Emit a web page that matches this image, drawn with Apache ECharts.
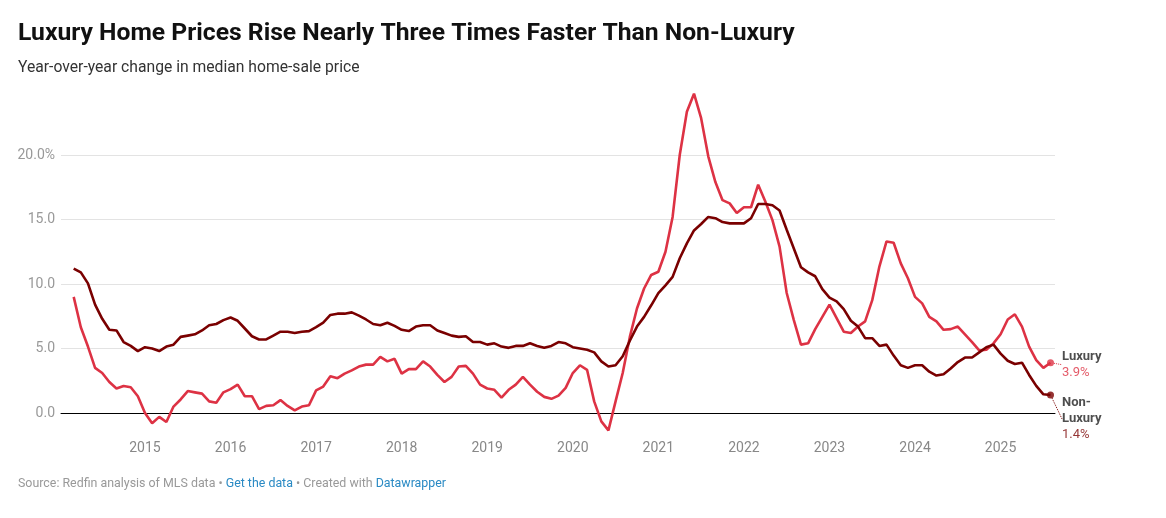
<!DOCTYPE html>
<html>
<head>
<meta charset="utf-8">
<script src="https://cdn.jsdelivr.net/npm/echarts@6.0.0/dist/echarts.min.js"></script>
<style>
html,body{margin:0;padding:0;background:#fff;}
#chart{width:1166px;height:518px;}
</style>
</head>
<body>
<div id="chart"></div>
<script>
// ---- Data (year-over-year change, %, monthly Mar 2014 – Aug 2025) ----
const startYear = 2014, startMonth = 3, monthCount = 138;
const months = [];
for (let i = 0; i < monthCount; i++) {
  const m = startMonth - 1 + i;
  const y = startYear + Math.floor(m / 12);
  const mm = (m % 12) + 1;
  months.push(y + '-' + (mm < 10 ? '0' + mm : mm));
}

const luxury = [
  9.0, 6.65, 5.15, 3.5, 3.1, 2.4, 1.9, 2.1, 2.0, 1.3,
  0.0, -0.8, -0.3, -0.7, 0.5, 1.05, 1.7, 1.6, 1.5, 0.9, 0.8, 1.6,
  1.85, 2.2, 1.3, 1.3, 0.3, 0.55, 0.6, 1.0, 0.55, 0.2, 0.5, 0.6,
  1.75, 2.05, 2.85, 2.7, 3.05, 3.3, 3.6, 3.75, 3.75, 4.35, 4.0, 4.2,
  3.05, 3.4, 3.4, 4.0, 3.6, 2.95, 2.4, 2.8, 3.6, 3.65, 3.05, 2.2,
  1.9, 1.8, 1.2, 1.8, 2.2, 2.8, 2.2, 1.65, 1.25, 1.1, 1.35, 1.95,
  3.1, 3.7, 3.35, 0.9, -0.65, -1.35, 0.9, 3.1, 5.9, 8.1, 9.65, 10.7,
  10.95, 12.5, 15.2, 20.0, 23.35, 24.75, 22.85, 19.9, 17.9, 16.5, 16.25, 15.5,
  15.95, 15.95, 17.7, 16.4, 14.95, 12.9, 9.3, 7.2, 5.3, 5.4, 6.5, 7.45,
  8.4, 7.35, 6.3, 6.2, 6.7, 7.1, 8.75, 11.35, 13.3, 13.2, 11.6, 10.45,
  9.0, 8.5, 7.45, 7.1, 6.45, 6.5, 6.7, 6.1, 5.5, 4.85, 4.9, 5.4,
  6.1, 7.25, 7.65, 6.7, 5.15, 4.1, 3.5, 3.9
];

const nonLuxury = [
  11.2, 10.9, 10.05, 8.4, 7.3, 6.45, 6.4, 5.5, 5.2, 4.8,
  5.1, 5.0, 4.8, 5.15, 5.3, 5.9, 6.0, 6.1, 6.4, 6.8, 6.9, 7.2,
  7.4, 7.15, 6.55, 5.95, 5.7, 5.7, 6.0, 6.3, 6.3, 6.2, 6.3, 6.35,
  6.65, 7.0, 7.6, 7.7, 7.7, 7.8, 7.55, 7.25, 6.9, 6.8, 7.0, 6.75,
  6.45, 6.35, 6.7, 6.8, 6.8, 6.4, 6.2, 6.0, 5.9, 5.95, 5.5, 5.5,
  5.3, 5.4, 5.15, 5.05, 5.2, 5.2, 5.4, 5.2, 5.05, 5.2, 5.5, 5.4,
  5.1, 5.0, 4.9, 4.7, 4.0, 3.6, 3.7, 4.4, 5.6, 6.7, 7.45, 8.35,
  9.3, 9.9, 10.55, 12.0, 13.15, 14.15, 14.65, 15.2, 15.1, 14.8, 14.7, 14.7,
  14.7, 15.1, 16.2, 16.2, 16.1, 15.7, 14.2, 12.75, 11.3, 10.9, 10.6, 9.6,
  8.95, 8.65, 8.05, 7.15, 6.7, 5.8, 5.8, 5.2, 5.3, 4.45, 3.7, 3.5,
  3.7, 3.7, 3.2, 2.9, 3.0, 3.45, 3.95, 4.3, 4.3, 4.7, 5.1, 5.3,
  4.6, 4.05, 3.8, 3.9, 2.95, 2.1, 1.45, 1.4
];

const yearLabels = ['2015','2016','2017','2018','2019','2020','2021','2022','2023','2024','2025'];
const yTicks = [0, 5, 10, 15, 20];

// ---- Styling ----
const LUX = '#dd3244';
const NON = '#7a0000';
const FONT = 'Roboto, "Noto Sans", sans-serif';
const PX_PER_UNIT = 12.9;
const ZERO_Y = 413;

const luxData = luxury.map((v, i) => [i, v]);
const nonData = nonLuxury.map((v, i) => [i, v]);
const last = monthCount - 1;
const yearIdx = yearLabels.map(y => months.indexOf(y + '-01'));

const chart = echarts.init(document.getElementById('chart'), null, {renderer: 'canvas'});
chart.setOption({
  animation: false,
  backgroundColor: '#fff',
  textStyle: {fontFamily: FONT},
  title: [
    {text: 'Luxury Home Prices Rise Nearly Three Times Faster Than Non-Luxury', left: 18, top: 21, padding: 0,
     textStyle: {fontFamily: FONT, fontSize: 24.7, fontWeight: 'bold', color: '#111'}},
    {text: 'Year-over-year change in median home-sale price', left: 18, top: 60, padding: 0,
     textStyle: {fontFamily: FONT, fontSize: 15.7, fontWeight: 'normal', color: '#333'}},
    {text: '{g|Source: Redfin analysis of MLS data • }{b|Get the data}{g| • Created with }{b|Datawrapper}',
     left: 18, top: 478, padding: 0,
     textStyle: {fontWeight: 'normal', rich: {
       g: {fontFamily: FONT, fontSize: 12.4, fontWeight: 'normal', color: '#999'},
       b: {fontFamily: FONT, fontSize: 12.4, fontWeight: 'normal', color: '#2a8ac4'}
     }}}
  ],
  grid: {left: 61, right: 111, top: ZERO_Y - 25 * PX_PER_UNIT, bottom: 518 - (ZERO_Y + 5 * PX_PER_UNIT)},
  xAxis: {
    type: 'value',
    min: -1.78,
    max: last + 0.63,
    offset: -5 * PX_PER_UNIT,
    splitLine: {show: false},
    axisLine: {show: true, onZero: false, lineStyle: {color: '#000', width: 1}},
    axisTick: {show: false},
    axisLabel: {
      customValues: yearIdx,
      formatter: v => months[Math.round(v)] ? months[Math.round(v)].slice(0, 4) : '',
      color: '#888', fontSize: 14, fontFamily: FONT, margin: 28
    }
  },
  yAxis: {
    type: 'value',
    min: -5, max: 25, interval: 5,
    axisLine: {show: false},
    axisTick: {show: false},
    splitLine: {lineStyle: {color: ['rgba(0,0,0,0)', '#e3e3e3', '#e3e3e3', '#e3e3e3', '#e3e3e3', '#e3e3e3', 'rgba(0,0,0,0)'], width: 1}},
    axisLabel: {
      formatter: v => yTicks.indexOf(v) < 0 ? '' : (v === 20 ? v.toFixed(1) + '%' : v.toFixed(1)),
      color: '#999', fontSize: 14, fontFamily: FONT, margin: 6, align: 'right'
    }
  },
  series: [
    {name: 'Luxury', type: 'line', data: luxData, showSymbol: false, symbol: 'none',
     lineStyle: {color: LUX, width: 2.6}, z: 3, silent: true},
    {name: 'Non-Luxury', type: 'line', data: nonData, showSymbol: false, symbol: 'none',
     lineStyle: {color: NON, width: 2.6}, z: 4, silent: true},
    {type: 'scatter', silent: true, z: 5, symbolSize: 7,
     data: [{value: luxData[last], itemStyle: {color: LUX},
       label: {show: true, position: 'right', distance: 0,
         formatter: '{a|Luxury}\n{b|' + luxury[last].toFixed(1) + '%}',
         rich: {a: {fontFamily: FONT, fontSize: 13, fontWeight: 'bold', color: '#222', lineHeight: 16},
                b: {fontFamily: FONT, fontSize: 13, color: LUX, lineHeight: 16}}},
       labelLine: {show: true, lineStyle: {color: LUX, type: 'dotted', width: 1}}
     }, {value: nonData[last], itemStyle: {color: NON},
       label: {show: true, position: 'right', distance: 0,
         formatter: '{a|Non-}\n{a|Luxury}\n{b|' + nonLuxury[last].toFixed(1) + '%}',
         rich: {a: {fontFamily: FONT, fontSize: 13, fontWeight: 'bold', color: '#222', lineHeight: 16},
                b: {fontFamily: FONT, fontSize: 13, color: NON, lineHeight: 16}}},
       labelLine: {show: true, lineStyle: {color: NON, type: 'dotted', width: 1}}
     }],
     labelLayout: function (p) {
       if (p.dataIndex === 0) return {dx: 8, dy: 2};
       return {dx: 8, dy: 24};
     }
    }
  ]
});
</script>
</body>
</html>
